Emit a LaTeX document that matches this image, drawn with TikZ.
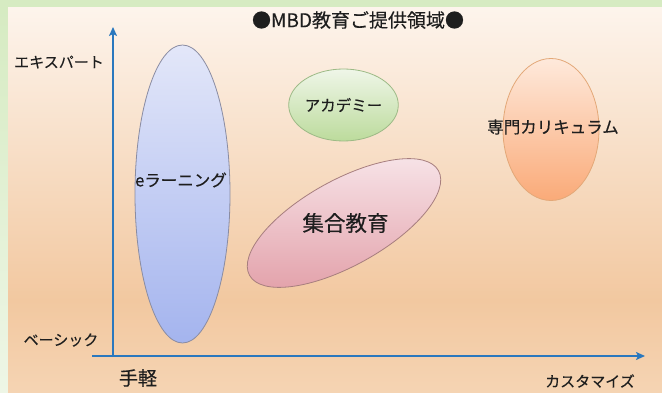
\documentclass[tikz,border=0pt]{standalone}
\usepackage{fontspec}
\setmainfont{Noto Sans CJK JP}[FakeBold=0.3]
\usetikzlibrary{arrows.meta,shapes.geometric}
\definecolor{grn}{HTML}{D6EBC2}
\definecolor{grnlight}{HTML}{EEF6E6}
\definecolor{bgtop}{HTML}{FDF4EC}
\definecolor{bgdeep}{HTML}{F2C8A0}
\definecolor{bgbot}{HTML}{F5D4B3}
\definecolor{axisblue}{HTML}{2A78BE}
\definecolor{txt}{HTML}{1E1E1E}
\definecolor{bluetop}{HTML}{E3E7F9}
\definecolor{bluebot}{HTML}{A4B4EE}
\definecolor{blueline}{HTML}{8A8CA2}
\definecolor{grntop}{HTML}{EFF6E8}
\definecolor{grnbot}{HTML}{BCDB9C}
\definecolor{grnline}{HTML}{9DBA86}
\definecolor{pinktop}{HTML}{F8E6EA}
\definecolor{pinkbot}{HTML}{E3A2AB}
\definecolor{pinkline}{HTML}{A77E7E}
\definecolor{orgtop}{HTML}{FEE9DB}
\definecolor{orgbot}{HTML}{FAAA78}
\definecolor{orgline}{HTML}{E3A878}
\tikzset{
  axisline/.style={draw=axisblue, line width=2.4pt},
  blob/.style={ellipse, draw, line width=0.8pt, inner sep=0pt, text=txt},
  axlabel/.style={text=txt, font=\fontsize{15}{18}\selectfont, inner sep=0pt},
  bloblabel/.style={text=txt, font=\fontsize{16.5}{20}\selectfont, inner sep=0pt}
}
\begin{document}
\begin{tikzpicture}[x=1pt,y=-1pt]
\useasboundingbox (0,0) rectangle (662,393);
% green frame
\fill[grn] (0,0) rectangle (662,8);
\shade[top color=grn, bottom color=grnlight] (0,8) rectangle (8,393);
% peach background
\shade[top color=bgtop, bottom color=bgdeep] (8,8) rectangle (662,300.5);
\shade[top color=bgdeep, bottom color=bgbot] (8,300) rectangle (662,393);
% title
\node[text=txt, font=\fontsize{19}{22}\selectfont, inner sep=0pt] (title) at (358,20) {●MBD教育ご提供領域●};
% ellipses
\node[blob, draw=blueline, top color=bluetop, bottom color=bluebot,
      minimum width=95pt, minimum height=298pt] (elearn) at (182.5,194) {};
\node[bloblabel] (elearntext) at (181,180) {eラーニング};
\node[blob, draw=grnline, top color=grntop, bottom color=grnbot,
      minimum width=94pt, minimum height=72pt, font=\fontsize{15.5}{18}\selectfont] (academy) at (343.5,105) {アカデミー};
\node[blob, draw=pinkline, top color=pinktop, bottom color=pinkbot,
      minimum width=216pt, minimum height=66pt, rotate=29, font=\fontsize{21.5}{24}\selectfont] (group) at (344,223) {\rotatebox{-29}{\hspace{3pt}集合教育}};
\node[blob, draw=orgline, top color=orgtop, bottom color=orgbot,
      minimum width=96pt, minimum height=142pt] (spec) at (551,129.5) {};
\node[bloblabel] (spectext) at (553,127) {専門カリキュラム};
% axes
\coordinate (xstart) at (92,356);
\coordinate (xend) at (645,356);
\coordinate (ystart) at (113,357.2);
\coordinate (yend) at (113,27);
\draw[axisline, -{Stealth[length=9pt,width=8pt,inset=2pt]}] (xstart) -- (xend);
\draw[axisline, -{Stealth[length=9pt,width=8pt,inset=2pt]}] (ystart) -- (yend);
% axis labels
\node[axlabel] (expert) at (59,62) {エキスパート};
\node[axlabel] (basic) at (61,340) {ベーシック};
\node[axlabel, font=\fontsize{19}{22}\selectfont] (easy) at (138,378) {手軽};
\node[axlabel] (custom) at (590,381) {カスタマイズ};
\end{tikzpicture}
\end{document}
